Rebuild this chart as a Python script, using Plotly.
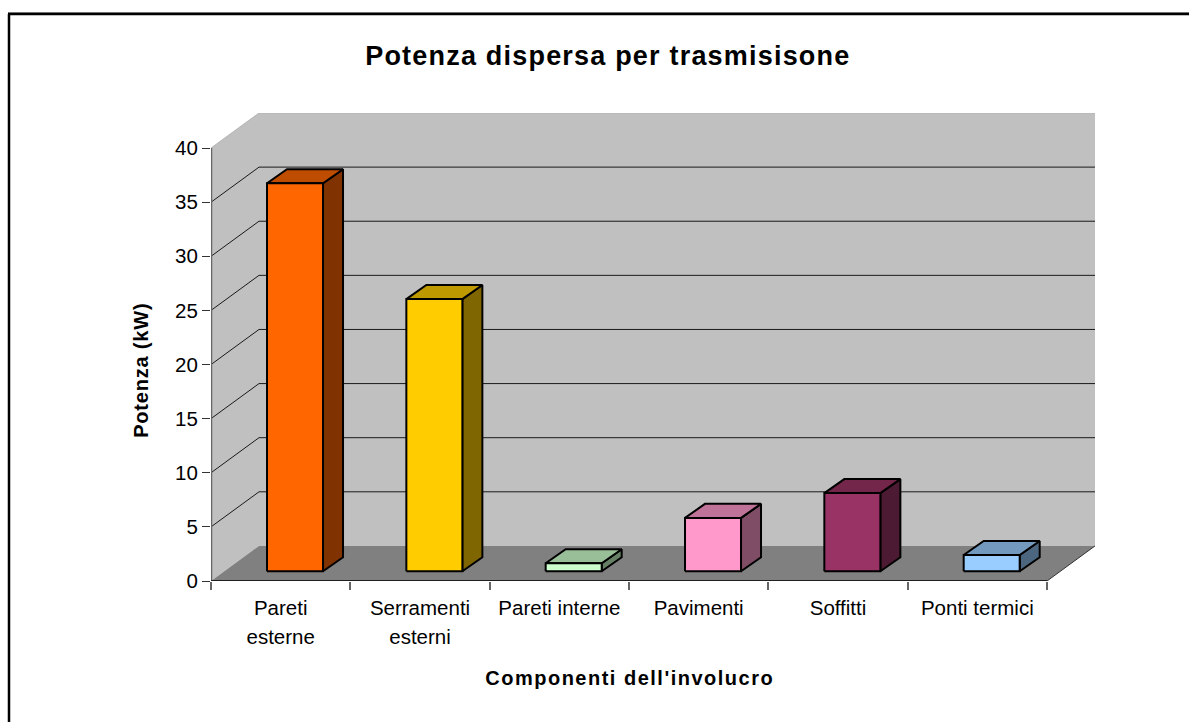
import plotly.graph_objects as go

categories = ["Pareti<br>esterne", "Serramenti<br>esterni", "Pareti interne", "Pavimenti", "Soffitti", "Ponti termici"]
values = [35.85, 25.15, 0.74, 4.93, 7.22, 1.5]
front_colors = ["#FF6600", "#FFCC00", "#CCFFCC", "#FF99CC", "#993366", "#99CCFF"]
top_colors = ["#BF4D00", "#BF9900", "#99BF99", "#BF7399", "#732649", "#7399BF"]
side_colors = ["#803300", "#806600", "#668066", "#804D66", "#4D1A33", "#4D6680"]
y_ticks = [0, 5, 10, 15, 20, 25, 30, 35, 40]

# 3D projection constants, in axis units
DX, DY = 48 / 139.33, 35 / 10.8        # wall depth
BAR_OFF, BAR_W = 0.402, 0.402           # bar position inside a category
BAR_BASE = 0.9                          # bar foot above axis floor line
BDX, BDY = 20 / 139.33, 14 / 10.8       # bar depth
N = len(categories)

L, R, T, B = 211, 1095, 113, 581
W, H = 1189, 722
px = lambda x: (x - L) / (R - L)
py = lambda y: (B - y) / (B - T)

fig = go.Figure()

def poly(xs, ys, fill, line=None, lw=0):
    fig.add_trace(go.Scatter(x=xs, y=ys, mode="lines", fill="toself", fillcolor=fill,
                             line=dict(color=line or fill, width=lw if line else 0),
                             hoverinfo="skip", showlegend=False))

def lines(xs, ys, color, lw):
    fig.add_trace(go.Scatter(x=xs, y=ys, mode="lines", line=dict(color=color, width=lw),
                             hoverinfo="skip", showlegend=False, cliponaxis=False))

# walls and floor
poly([DX, N + DX, N + DX, DX, DX], [DY, DY, 40 + DY, 40 + DY, DY], "#C0C0C0")
poly([0, DX, DX, 0, 0], [0, DY, 40 + DY, 40, 0], "#C0C0C0")
poly([0, N, N + DX, DX, 0], [0, 0, DY, DY, 0], "#808080")
lines([0, DX, N + DX], [40, 40 + DY, 40 + DY], "#B4B4B4", 1)

# gridlines
gx, gy = [], []
for t in y_ticks[1:-1]:
    gx += [0, DX, N + DX, None]
    gy += [t, t + DY, t + DY, None]
lines(gx, gy, "#1a1a1a", 1)

# bars
for i, v in enumerate(values):
    x0, x1 = i + BAR_OFF, i + BAR_OFF + BAR_W
    b, t = BAR_BASE, BAR_BASE + v
    poly([x1, x1 + BDX, x1 + BDX, x1, x1], [b, b + BDY, t + BDY, t, b], side_colors[i], "#000000", 2)
    poly([x0, x1, x1 + BDX, x0 + BDX, x0], [t, t, t + BDY, t + BDY, t], top_colors[i], "#000000", 2)
    poly([x0, x1, x1, x0, x0], [b, b, t, t, b], front_colors[i], "#000000", 2)

# axis lines
lines([0, 0], [0, 40], "#666666", 2.5)
lines([0, N], [0, 0], "#000000", 1.5)
lines([N, N + DX], [0, DY], "#333333", 1)

font = "Liberation Sans"
fig.update_layout(
    width=W, height=H, autosize=False,
    margin=dict(l=L, r=W - R, t=T, b=H - B),
    paper_bgcolor="white", plot_bgcolor="white", showlegend=False,
    font=dict(family=font, size=20.5, color="#000000"),
    xaxis=dict(range=[0, N + DX], tickmode="array", tickvals=[i + 0.5 for i in range(N)],
               ticktext=categories, ticks="outside", ticklen=0, showgrid=False, zeroline=False,
               showline=False, tickfont=dict(size=20.5), ticklabelstandoff=8,
               minor=dict(tickmode="array", tickvals=list(range(N + 1)), ticks="outside",
                          ticklen=8, tickcolor="#666666", tickwidth=1.5, showgrid=False)),
    yaxis=dict(range=[0, 40 + DY], tickmode="array", tickvals=y_ticks, ticks="outside", ticklen=8,
               tickcolor="#333333", tickwidth=1, showgrid=False, zeroline=False, showline=False,
               tickfont=dict(size=20.5), ticklabelstandoff=0),
    annotations=[
        dict(text="<b>Potenza dispersa per trasmisisone</b>", xref="paper", yref="paper",
             x=px(607.5), y=py(56), xanchor="center", yanchor="middle", showarrow=False,
             font=dict(size=27)),
        dict(text="<b>Componenti dell'involucro</b>", xref="paper", yref="paper",
             x=px(629), y=py(678), xanchor="center", yanchor="middle", showarrow=False,
             font=dict(size=20)),
        dict(text="<b>Potenza (kW)</b>", xref="paper", yref="paper", textangle=-90,
             x=px(141), y=py(370), xanchor="center", yanchor="middle", showarrow=False,
             font=dict(size=20)),
    ],
    shapes=[
        dict(type="line", xref="paper", yref="paper", x0=px(8), x1=px(1189), y0=py(12.5), y1=py(12.5),
             line=dict(color="#999999", width=1)),
        dict(type="line", xref="paper", yref="paper", x0=px(9), x1=px(9), y0=py(14), y1=py(722),
             line=dict(color="#000000", width=2.5)),
        dict(type="line", xref="paper", yref="paper", x0=px(8), x1=px(1189), y0=py(14), y1=py(14),
             line=dict(color="#000000", width=2.5)),
    ],
)
post = """
document.body.style.margin='0';
var sp=['1.2px','1.5px','0.8px'];
document.querySelectorAll('.annotation-text').forEach(function(t,i){t.style.letterSpacing=sp[i];});
document.querySelectorAll('.xtick text tspan.line').forEach(function(t){
  if(parseFloat(t.getAttribute('dy'))>0){t.setAttribute('dy','1.45em');}
});
"""
fig.write_html("out.html", post_script=post, config={"displayModeBar": False})
